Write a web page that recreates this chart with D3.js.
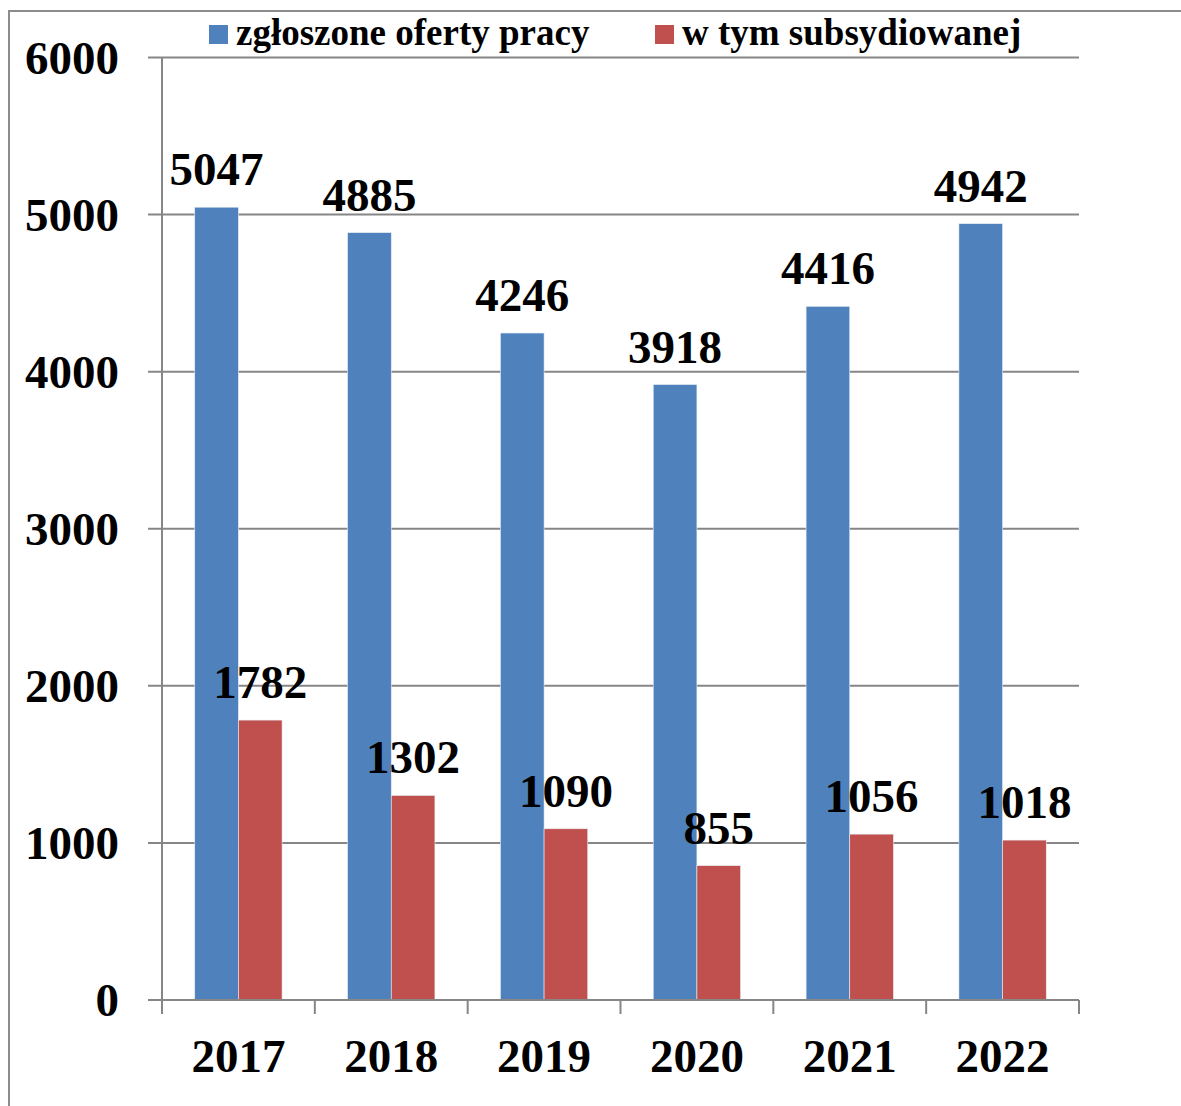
<!DOCTYPE html>
<html>
<head>
<meta charset="utf-8">
<script src="https://cdn.jsdelivr.net/npm/d3@7"></script>
<style>
  body { margin: 0; background: #fff; }
  text { font-family: "Liberation Serif", "Times New Roman", serif; font-weight: bold; fill: #000; }
</style>
</head>
<body>
<div id="chart"></div>
<script>
const years = ["2017", "2018", "2019", "2020", "2021", "2022"];
const seriesNames = ["zgłoszone oferty pracy", "w tym subsydiowanej"];
const offers = [5047, 4885, 4246, 3918, 4416, 4942];
const subsidised = [1782, 1302, 1090, 855, 1056, 1018];
const colors = ["#4F81BD", "#C0504D"];
const yTicks = [0, 1000, 2000, 3000, 4000, 5000, 6000];

const width = 1181, height = 1106;
const margin = { left: 162, right: 102, top: 57.5, bottom: 106 };

const svg = d3.select("#chart").append("svg")
    .attr("width", width)
    .attr("height", height);

// outer frame (only left + top visible)
svg.append("path")
    .attr("d", `M9,${height}V11H${width}`)
    .attr("fill", "none")
    .attr("stroke", "#8c8c8c")
    .attr("stroke-width", 2);

const x0 = d3.scaleBand()
    .domain(years)
    .range([margin.left, width - margin.right])
    .padding(0);

const x1 = d3.scaleBand()
    .domain([0, 1])
    .range([0, x0.bandwidth()])
    .paddingInner(0)
    .paddingOuter(0.75);

const y = d3.scaleLinear()
    .domain([0, 6000])
    .range([height - margin.bottom, margin.top]);

// gridlines
svg.append("g")
    .selectAll("line")
    .data(yTicks)
    .enter().append("line")
    .attr("x1", margin.left - 14)
    .attr("x2", width - margin.right)
    .attr("y1", d => y(d))
    .attr("y2", d => y(d))
    .attr("stroke", "#868686")
    .attr("stroke-width", 2);

// y labels
svg.append("g")
    .selectAll("text")
    .data(yTicks)
    .enter().append("text")
    .attr("x", 119)
    .attr("y", d => y(d) + 16)
    .attr("text-anchor", "end")
    .attr("font-size", 47)
    .text(d => d);

// y axis line
svg.append("line")
    .attr("x1", margin.left).attr("x2", margin.left)
    .attr("y1", y(6000)).attr("y2", y(0))
    .attr("stroke", "#868686")
    .attr("stroke-width", 2);

// bars
const rows = years.map((yr, i) => ({ year: yr, values: [offers[i], subsidised[i]] }));

const groups = svg.append("g")
    .selectAll("g")
    .data(rows)
    .enter().append("g")
    .attr("transform", d => `translate(${x0(d.year)},0)`);

groups.selectAll("rect")
    .data(d => d.values.map((v, k) => ({ k: k, v: v })))
    .enter().append("rect")
    .attr("x", d => x1(d.k))
    .attr("width", x1.bandwidth())
    .attr("y", d => y(d.v))
    .attr("height", d => y(0) - y(d.v))
    .attr("fill", d => colors[d.k])
    .attr("stroke", "#e8eef6")
    .attr("stroke-width", 0.6);

groups.selectAll("text")
    .data(d => d.values.map((v, k) => ({ k: k, v: v })))
    .enter().append("text")
    .attr("x", d => x1(d.k) + x1.bandwidth() / 2)
    .attr("y", d => y(d.v) - 22)
    .attr("text-anchor", "middle")
    .attr("font-size", 47)
    .text(d => d.v);

// x axis
svg.append("line")
    .attr("x1", margin.left - 14).attr("x2", width - margin.right)
    .attr("y1", y(0)).attr("y2", y(0))
    .attr("stroke", "#868686")
    .attr("stroke-width", 2);

const tickXs = years.map(d => x0(d)).concat([x0(years[years.length - 1]) + x0.bandwidth()]);
svg.append("g")
    .selectAll("line")
    .data(tickXs)
    .enter().append("line")
    .attr("x1", d => d).attr("x2", d => d)
    .attr("y1", y(0)).attr("y2", y(0) + 14)
    .attr("stroke", "#868686")
    .attr("stroke-width", 2);

svg.append("g")
    .selectAll("text")
    .data(years)
    .enter().append("text")
    .attr("x", d => x0(d) + x0.bandwidth() / 2)
    .attr("y", 1072)
    .attr("text-anchor", "middle")
    .attr("font-size", 47)
    .text(d => d);

// legend
const legendX = [209, 655];
const legend = svg.append("g")
    .selectAll("g")
    .data(seriesNames)
    .enter().append("g")
    .attr("transform", (d, i) => `translate(${legendX[i]},0)`);

legend.append("rect")
    .attr("x", 0).attr("y", 25)
    .attr("width", 19).attr("height", 19)
    .attr("fill", (d, i) => colors[i]);

legend.append("text")
    .attr("x", 27)
    .attr("y", 45)
    .attr("font-size", 37)
    .text(d => d);
</script>
</body>
</html>
